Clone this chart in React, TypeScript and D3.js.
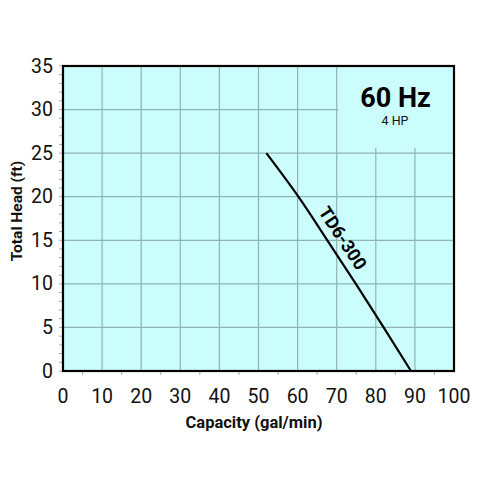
import React from "react";
import * as d3 from "d3";

const capacity = [52, 60.2, 67.6, 74.9, 82, 89];
const head = [25, 20, 15, 10, 5, 0];
const xTicks = [0, 10, 20, 30, 40, 50, 60, 70, 80, 90, 100];
const yTicks = [0, 5, 10, 15, 20, 25, 30, 35];
const curveName = "TD6-300";
const freqLabel = "60 Hz";
const hpLabel = "4 HP";

const W = 480, H = 480;
const L = 63, R = 454, T = 66, B = 371;
const BG = "#ccfdfd";
const GRID = "#8fb3b3";
const FONT = "Roboto, 'Noto Sans', Arial, sans-serif";

export default function App() {
  const x = d3.scaleLinear().domain([0, 100]).range([L, R]);
  const y = d3.scaleLinear().domain([0, 35]).range([B, T]);
  const pts: [number, number][] = capacity.map((c, i) => [c, head[i]]);
  const line = d3
    .line<[number, number]>()
    .x((d) => x(d[0]))
    .y((d) => y(d[1]))
    .curve(d3.curveMonotoneX);

  const p1 = [x(capacity[1]), y(head[1])];
  const p2 = [x(capacity[3]), y(head[3])];
  const angle = (Math.atan2(p2[1] - p1[1], p2[0] - p1[0]) * 180) / Math.PI;

  const boxX = x(70) + 1.5;
  const boxBottom = y(25.6);

  const minorY = d3.range(0, 36, 1);
  const minorX = d3.range(5, 100, 10);

  return (
    <svg
      width={W}
      height={H}
      style={{ position: "absolute", left: 0, top: 0, background: "#fff" }}
      fontFamily={FONT}
    >
      <rect x={L} y={T} width={R - L} height={B - T} fill={BG} />
      {xTicks.slice(1, -1).map((t) => (
        <line key={"gx" + t} x1={x(t)} x2={x(t)} y1={T} y2={B} stroke={GRID} strokeWidth={1.2} />
      ))}
      {yTicks.slice(1, -1).map((t) => (
        <line key={"gy" + t} x1={L} x2={R} y1={y(t)} y2={y(t)} stroke={GRID} strokeWidth={1.2} />
      ))}
      <rect x={boxX} y={T} width={R - boxX} height={boxBottom - T} fill={BG} />
      {minorY.map((t) => (
        <line key={"my" + t} x1={L - 4} x2={L} y1={y(t)} y2={y(t)} stroke="#aaa" strokeWidth={1} />
      ))}
      {minorX.map((t) => (
        <line key={"mx" + t} x1={x(t)} x2={x(t)} y1={B} y2={B + 4} stroke="#aaa" strokeWidth={1} />
      ))}
      <path d={line(pts) || ""} fill="none" stroke="#000" strokeWidth={2.2} />
      <text
        x={343}
        y={238}
        transform={`rotate(${angle} 343 238)`}
        textAnchor="middle"
        dominantBaseline="central"
        fontSize={18}
        fontWeight="bold"
      >
        {curveName}
      </text>
      <rect x={L} y={T} width={R - L} height={B - T} fill="none" stroke="#000" strokeWidth={2.2} />
      {xTicks.map((t) => (
        <text key={"tx" + t} x={x(t)} y={403} textAnchor="middle" fontSize={19.5} fill="#111">
          {t}
        </text>
      ))}
      {yTicks.map((t) => (
        <text key={"ty" + t} x={53} y={y(t)} textAnchor="end" dominantBaseline="central" fontSize={19.5} fill="#111">
          {t}
        </text>
      ))}
      <text x={254} y={428} textAnchor="middle" fontSize={16.5} fontWeight="bold" fill="#111">
        Capacity (gal/min)
      </text>
      <text
        x={22}
        y={211}
        transform="rotate(-90 22 211)"
        textAnchor="middle"
        fontSize={15.5}
        fontWeight="bold"
        fill="#111"
      >
        Total Head (ft)
      </text>
      <text x={395.5} y={107} textAnchor="middle" fontSize={27} fontWeight="bold" fill="#000">
        {freqLabel}
      </text>
      <text x={395} y={125} textAnchor="middle" fontSize={12.5} fill="#111">
        {hpLabel}
      </text>
    </svg>
  );
}
